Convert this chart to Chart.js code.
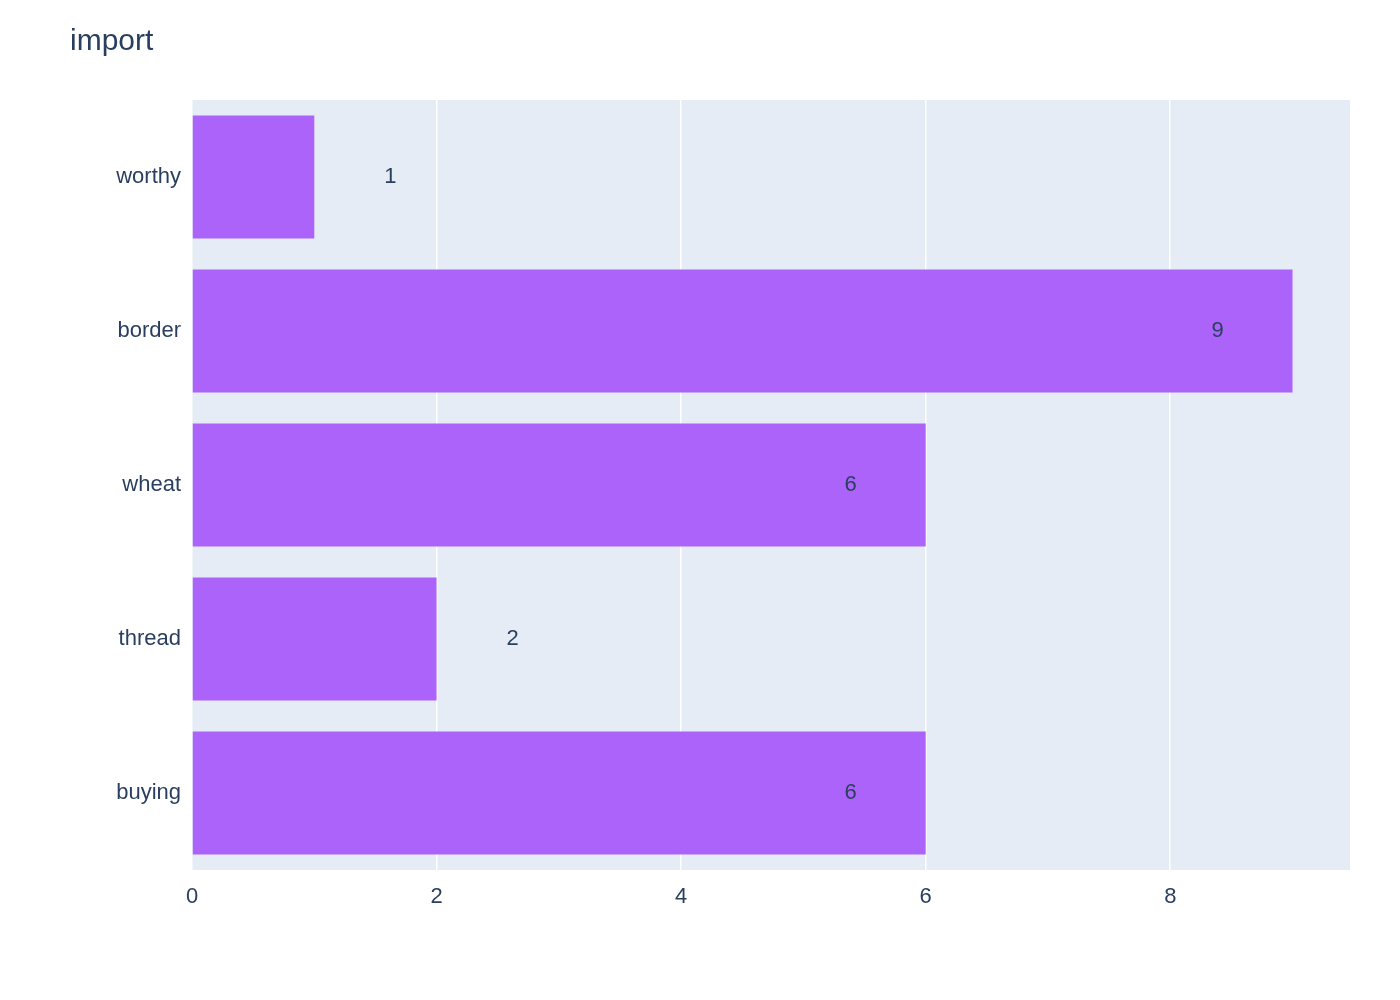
<!DOCTYPE html>
<html><head><meta charset="utf-8">
<script src="https://cdn.jsdelivr.net/npm/chart.js@4"></script>
<style>html,body{margin:0;padding:0;background:#fff}#wrap{width:1400px;height:1000px;position:relative}</style>
</head><body><div id="wrap"><canvas id="c"></canvas></div>
<script>
const categories = ["worthy", "border", "wheat", "thread", "buying"];
const values = [1, 9, 6, 2, 6];
const xTicks = [0, 2, 4, 6, 8];
const titleText = "import";
const FONT = "'Liberation Sans', Arial, sans-serif";
const TXT = "#2a3f5f";

const plug = {
  id: 'deco',
  beforeDraw(chart) {
    const {ctx, chartArea: a} = chart;
    ctx.save();
    ctx.fillStyle = '#E5ECF6';
    ctx.fillRect(a.left, a.top, a.right - a.left, a.bottom - a.top);
    ctx.restore();
  },
  afterDatasetsDraw(chart) {
    const {ctx} = chart;
    const meta = chart.getDatasetMeta(0);
    const xs = chart.scales.x;
    ctx.save();
    ctx.font = "30px " + FONT;
    ctx.fillStyle = TXT;
    ctx.textBaseline = 'alphabetic';
    ctx.textAlign = 'left';
    ctx.fillText(titleText, 70, 50);
    ctx.font = "22px " + FONT;
    ctx.textAlign = 'center';
    ctx.textBaseline = 'middle';
    meta.data.forEach((bar, i) => {
      const v = values[i];
      const end = xs.getPixelForValue(v);
      const x = v >= 4 ? end - 75 : end + 76;
      ctx.fillText(String(v), x, bar.y);
    });
    ctx.restore();
  }
};

new Chart(document.getElementById('c'), {
  type: 'bar',
  data: {labels: categories, datasets: [{data: values, backgroundColor: '#AB63FA', borderWidth: 0,
    categoryPercentage: 0.8, barPercentage: 1}]},
  options: {
    indexAxis: 'y', responsive: true, maintainAspectRatio: false, animation: false,
    layout: {padding: {top: 100, right: 50, left: 0, bottom: 0}},
    plugins: {legend: {display: false}, tooltip: {enabled: false}},
    scales: {
      x: {min: 0, max: 9.47,
        afterBuildTicks(s) { s.ticks = xTicks.map(v => ({value: v})); },
        afterFit(s) { s.height = 130; },
        grid: {color: '#ffffff', lineWidth: 1.5, drawTicks: false},
        border: {display: false},
        ticks: {padding: 14, color: TXT, font: {size: 22, family: FONT}}},
      y: {afterFit(s) { s.width = 192; },
        grid: {display: false}, border: {display: false},
        ticks: {padding: 3, color: TXT, font: {size: 22, family: FONT}}}
    }
  },
  plugins: [plug]
});
</script></body></html>
